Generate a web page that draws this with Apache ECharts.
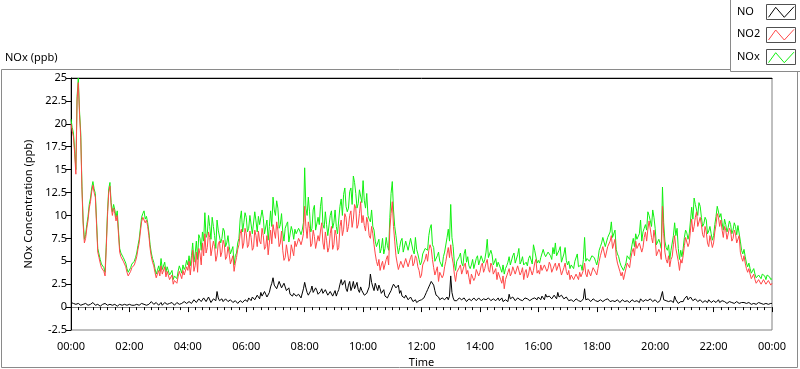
<!DOCTYPE html>
<html>
<head>
<meta charset="utf-8">
<script src="https://cdn.jsdelivr.net/npm/echarts@6/dist/echarts.min.js"></script>
<style>
html,body{margin:0;padding:0;background:#fff;}
#chart{width:800px;height:369px;}
</style>
</head>
<body>
<div id="chart"></div>
<script>
// Sampling: main readings every 5 minutes (00:00..24:00), plus readings half-way between them
var stepMinutes = 5;
var timeLabels = ['00:00','02:00','04:00','06:00','08:00','10:00','12:00','14:00','16:00','18:00','20:00','22:00','00:00'];
var seriesNames = ['NO', 'NO2', 'NOx'];

// NO2 (ppb) at 00:00, 00:05, ... 24:00
var no2 = [
 20.0,18.6,14.5,24.5,18.5,9.0,7.5,9.5,11.5,13.3,12.0,6.0,
 4.8,4.2,3.4,10.0,13.2,10.0,10.2,10.0,6.0,5.5,4.8,3.8,
 3.5,4.3,4.6,5.5,7.0,9.3,10.0,9.5,7.8,5.5,4.5,3.2,
 4.0,4.5,3.8,3.3,3.8,2.8,2.5,3.0,3.3,3.8,4.0,3.7,
 4.0,3.5,6.2,4.5,3.8,5.8,7.0,8.0,6.5,7.6,5.8,6.6,
 5.6,7.2,6.0,6.8,5.5,5.8,4.9,3.9,5.4,6.8,8.5,7.0,
 8.0,6.8,7.6,6.5,7.8,8.3,6.9,7.8,6.6,5.7,8.4,9.0,
 7.5,8.4,7.0,6.2,5.4,6.8,5.3,6.6,7.2,7.0,7.2,7.3,
 11.0,7.5,8.6,6.9,7.7,6.2,7.2,9.2,6.3,7.3,6.5,8.8,
 6.8,7.8,6.5,9.5,8.5,9.8,8.8,10.5,9.6,10.8,9.0,11.5,
 10.0,8.3,9.2,7.5,8.0,5.8,4.5,4.0,5.0,4.3,5.6,8.5,
 11.5,7.2,4.8,4.2,5.2,4.4,5.5,4.6,5.7,4.8,5.3,4.0,
 3.5,4.5,5.8,6.2,6.4,4.3,3.6,2.8,4.0,3.5,5.0,6.5,
 6.8,4.8,2.8,3.6,4.6,3.5,4.8,4.0,2.5,3.8,3.2,4.3,
 3.8,4.8,4.2,5.2,3.8,4.5,3.5,3.0,3.9,2.6,2.0,3.4,
 4.2,3.7,4.5,3.6,4.6,3.8,3.0,4.1,3.6,4.6,4.0,5.2,
 4.0,4.6,3.8,4.8,4.2,4.6,3.6,4.8,3.9,4.6,3.6,4.8,
 3.5,3.0,3.6,2.8,3.4,3.8,3.2,4.8,3.3,4.2,3.6,4.5,
 3.5,5.0,5.8,6.8,5.6,6.4,7.8,6.5,5.5,4.6,3.4,3.0,
 4.2,4.7,5.3,6.4,7.2,6.2,7.0,6.5,8.2,8.5,9.2,7.0,
 7.5,5.4,6.0,11.0,6.0,4.8,4.4,5.5,7.8,6.5,4.0,4.8,
 6.7,7.5,7.0,9.6,8.8,10.4,8.6,9.0,7.6,8.2,6.6,7.2,
 7.0,9.0,9.8,9.5,7.6,8.4,7.2,8.3,7.5,8.0,7.1,6.0,
 5.0,4.8,3.8,3.6,3.3,3.0,2.6,2.9,2.7,2.9,2.6,2.8,
 2.6
];
// NO2 (ppb) at 00:02:30, 00:07:30, ... 23:57:30
var no2Mid = [
 19.2,16.8,22.6,21.0,12.8,7.0,8.6,10.8,12.6,12.5,9.0,5.4,
 4.3,3.9,6.5,12.5,11.0,10.8,9.4,8.0,5.5,5.0,4.4,3.4,
 3.9,4.5,5.0,6.3,8.2,9.8,9.2,8.8,6.4,4.9,3.8,3.6,
 3.4,3.6,4.4,3.9,3.0,3.5,2.9,2.6,3.9,3.1,3.5,4.4,
 5.0,4.8,3.9,6.0,6.4,4.6,5.6,5.9,8.2,5.6,7.2,5.0,
 6.9,5.5,7.3,5.2,6.6,4.7,5.6,4.8,6.3,8.0,6.4,8.6,
 6.5,8.3,6.2,8.4,6.6,7.2,8.6,6.3,7.8,7.0,6.9,8.2,
 9.3,6.6,8.3,5.1,6.8,5.0,6.8,5.6,6.6,7.5,6.8,8.0,
 8.8,9.3,6.6,8.4,6.4,7.8,8.3,7.0,8.2,6.0,8.0,6.3,
 8.4,6.2,8.8,7.8,10.2,8.2,10.0,8.7,11.2,8.6,10.2,9.2,
 8.9,9.8,7.8,8.8,6.8,5.0,5.2,4.6,4.1,5.2,4.6,10.2,
 8.8,5.6,4.1,5.0,4.3,5.3,4.4,5.4,4.5,5.6,4.4,3.2,
 4.6,5.2,5.0,6.8,5.2,3.5,4.4,3.8,3.2,4.4,5.8,5.4,
 5.5,3.6,3.8,4.3,3.6,4.5,3.6,3.2,3.6,2.9,4.1,3.4,
 4.5,3.8,4.8,4.1,4.8,3.6,4.2,3.8,3.0,3.4,3.0,3.8,
 3.4,4.4,3.6,4.5,3.5,4.3,3.8,3.2,4.4,3.5,4.8,3.7,
 3.6,4.0,4.6,3.9,4.9,3.8,4.5,4.0,4.8,3.5,4.3,3.9,
 4.0,3.5,3.0,3.6,3.0,3.3,4.0,3.6,4.1,3.4,4.3,3.8,
 4.2,5.6,6.6,5.4,6.6,7.2,6.4,7.4,4.8,3.9,3.8,3.6,
 4.8,4.3,6.0,5.6,6.4,7.0,6.0,7.6,7.2,9.4,7.6,8.4,
 5.6,6.3,5.2,8.0,5.2,5.6,5.2,6.8,6.4,5.0,5.2,5.6,
 7.6,6.6,8.4,8.2,9.8,8.8,9.8,7.9,8.8,7.0,7.8,6.5,
 8.2,10.2,8.8,8.4,8.8,7.4,8.6,7.2,8.4,7.0,7.8,5.4,
 5.6,4.2,4.2,3.1,3.6,2.6,3.0,2.5,3.0,2.5,2.9,2.4
];

// NOx (ppb) at 00:00, 00:05, ... 24:00
var nox = [
 20.5,19.0,15.0,25.0,19.0,9.4,7.9,9.9,11.9,13.7,12.4,6.4,
 5.2,4.6,3.8,10.4,13.6,10.4,10.6,10.5,6.4,5.9,5.2,4.2,
 3.9,4.7,5.0,5.9,7.4,9.8,10.5,9.9,8.2,5.9,4.9,3.6,
 4.5,5.3,4.3,3.8,4.3,3.3,3.0,3.6,3.9,4.5,4.6,4.4,
 4.6,4.5,7.0,5.8,5.2,7.5,8.2,10.3,8.0,8.8,9.8,7.8,
 9.5,8.2,7.5,8.3,7.0,6.6,5.8,4.6,5.9,7.5,10.5,9.2,
 9.8,8.6,10.2,8.2,9.4,9.9,8.9,9.7,8.0,7.3,10.5,12.0,
 10.0,10.8,9.0,8.2,8.6,9.3,7.2,8.3,8.5,8.1,8.3,8.4,
 15.2,10.0,10.4,8.6,11.1,8.2,9.0,12.0,8.6,9.0,8.0,10.5,
 9.2,8.8,8.0,11.8,12.3,11.0,10.8,13.0,14.3,12.4,11.3,12.8,
 13.8,10.8,10.0,9.3,8.8,7.2,6.8,5.9,7.5,6.4,6.7,9.8,
 13.7,8.8,6.7,6.5,7.5,6.2,7.2,6.3,7.4,5.8,6.3,5.2,
 4.9,5.6,6.5,7.8,9.0,6.5,5.0,6.0,4.8,5.5,5.8,8.5,
 11.2,6.6,4.0,4.8,5.9,4.5,6.3,5.5,4.2,5.2,4.4,5.6,
 4.8,5.7,5.2,7.4,5.4,5.7,4.6,4.4,5.0,3.8,3.6,4.5,
 5.5,4.8,5.9,4.9,6.4,5.0,4.6,4.9,5.3,5.4,6.8,6.0,
 5.1,5.4,6.3,5.5,6.0,5.6,6.5,7.0,5.8,6.6,5.0,6.5,
 4.6,4.2,4.4,5.0,5.8,4.5,4.0,7.6,5.3,5.0,5.6,5.4,
 4.6,6.2,7.0,7.8,6.8,7.5,9.3,7.4,6.3,5.5,4.5,4.0,
 4.8,5.4,6.0,7.5,8.0,7.6,9.5,8.2,9.0,10.4,9.8,10.6,
 8.6,6.8,7.0,13.1,7.2,6.2,5.2,6.4,9.2,8.6,5.2,5.5,
 7.6,8.1,8.0,10.9,11.9,11.0,11.4,9.8,9.1,9.5,8.3,8.0,
 7.8,9.9,11.1,10.2,8.4,9.0,8.7,9.0,8.4,8.8,8.9,7.2,
 5.8,5.5,4.4,4.2,3.9,3.6,3.4,3.5,3.6,3.4,3.5,3.3,
 3.1
];
// NOx (ppb) at the half-way times
var noxMid = [
 19.6,17.2,23.0,21.4,13.2,7.4,9.0,11.2,13.0,12.9,9.4,5.8,
 4.7,4.3,6.9,12.9,11.4,11.2,9.8,8.4,5.9,5.4,4.8,3.8,
 4.3,4.9,5.4,6.7,8.6,10.2,9.6,9.2,6.8,5.3,4.2,4.0,
 3.9,4.1,4.9,4.4,3.5,4.0,3.4,3.1,4.5,3.7,4.1,5.1,
 5.6,5.6,4.9,7.2,7.9,6.2,7.2,7.6,10.0,7.4,8.8,6.4,
 8.4,7.0,8.6,6.6,7.8,5.8,6.6,5.6,7.0,9.6,8.2,10.3,
 8.2,10.0,8.0,10.4,8.2,9.0,10.6,8.0,9.5,8.8,8.8,10.6,
 11.6,8.6,10.2,7.2,9.0,7.1,8.8,7.4,8.0,8.6,7.9,9.2,
 10.8,12.0,8.2,10.6,8.4,9.8,11.0,9.0,10.4,7.8,10.0,8.6,
 10.6,8.0,11.0,10.0,13.0,10.4,12.6,11.2,13.6,10.8,12.8,11.4,
 11.6,12.4,9.6,10.6,8.4,6.6,7.4,6.4,5.8,7.6,6.2,12.4,
 10.6,7.8,5.8,7.2,6.0,7.2,6.2,7.5,6.2,7.6,5.8,4.6,
 5.8,6.4,6.2,8.6,6.8,5.0,5.6,5.0,4.4,6.0,7.6,7.2,
 7.6,4.8,5.0,5.5,4.8,5.8,4.9,4.5,4.6,4.2,5.3,4.6,
 5.6,4.8,6.0,5.4,6.2,4.6,5.3,4.9,4.2,4.6,4.2,4.9,
 4.6,5.6,4.8,5.7,4.7,5.5,4.8,4.5,5.6,4.7,6.2,4.8,
 4.8,5.4,5.8,5.4,6.2,5.2,5.8,5.6,6.2,4.9,5.8,5.1,
 5.0,4.6,4.2,4.8,4.4,4.6,5.2,5.0,5.4,4.8,5.6,5.0,
 5.2,6.6,7.6,6.6,7.6,8.2,7.6,8.4,5.8,4.9,4.7,4.4,
 5.6,5.2,6.8,6.6,7.4,8.0,7.2,8.6,8.4,10.0,8.8,9.8,
 6.8,7.4,6.4,9.2,6.5,6.8,6.2,7.8,7.8,6.4,6.2,6.4,
 8.4,7.4,9.4,9.6,11.2,10.0,11.0,8.8,9.8,8.0,8.8,7.3,
 9.0,11.0,9.8,9.2,9.6,8.2,9.4,8.0,9.2,7.9,8.8,6.2,
 6.3,4.8,4.8,3.7,4.2,3.2,3.5,3.1,3.6,3.0,3.5,3.0
];

// NO (ppb) at 00:00, 00:05, ... 24:00
var no = [
 0.5,0.4,0.3,0.4,0.2,0.3,0.4,0.2,0.3,0.5,0.2,0.3,
 0.1,0.3,0.4,0.2,0.3,0.2,0.3,0.1,0.3,0.2,0.3,0.2,
 0.3,0.2,0.2,0.3,0.2,0.4,0.3,0.2,0.3,0.6,0.3,0.5,
 0.2,0.5,0.3,0.4,0.2,0.3,0.4,0.3,0.4,0.5,0.3,0.6,
 0.4,0.7,0.5,1.0,0.6,1.1,0.7,1.2,0.8,0.9,0.6,1.0,
 1.7,0.7,0.9,0.6,0.8,0.5,0.7,0.4,0.6,0.5,0.7,0.6,
 0.8,1.0,0.7,1.3,0.9,1.2,1.6,1.3,1.4,1.2,2.2,3.2,
 2.6,2.2,2.7,2.0,2.4,1.8,1.4,1.2,1.6,1.0,1.3,1.1,
 2.7,1.6,1.3,2.3,1.5,1.8,1.3,2.0,1.4,1.8,1.2,1.6,
 1.4,1.2,1.9,3.0,2.6,2.0,2.4,1.8,2.8,2.2,1.9,2.2,
 1.6,1.1,1.4,3.6,2.2,2.6,1.8,2.0,1.6,1.2,1.0,1.5,
 2.2,2.6,2.0,1.5,1.2,1.0,1.1,0.8,0.9,0.6,0.5,0.7,
 0.8,1.0,1.6,2.2,2.8,2.4,1.3,1.1,0.9,1.0,0.9,0.8,
 3.4,1.0,0.5,0.8,1.2,0.7,0.9,0.6,1.1,0.8,1.0,0.7,
 0.9,0.6,1.1,0.8,0.9,0.7,1.0,0.8,0.7,1.0,0.5,0.9,
 1.4,0.8,1.0,0.7,1.1,0.9,0.8,1.2,0.9,0.7,0.8,0.9,
 1.1,0.8,1.0,1.4,0.9,1.3,1.0,1.2,1.6,0.9,1.2,1.0,
 0.9,0.6,0.8,0.7,1.1,0.8,0.6,2.0,0.6,0.8,0.7,0.9,
 0.7,0.5,0.8,0.6,0.7,0.9,0.6,0.8,0.5,0.7,0.6,0.8,
 0.5,0.7,0.6,0.8,0.5,0.7,0.9,0.6,0.8,0.7,0.9,0.6,
 0.8,0.5,0.7,1.7,0.6,0.8,0.5,0.7,1.2,0.6,0.5,0.4,
 0.9,1.2,0.8,1.0,0.7,0.8,0.6,0.7,0.5,0.6,0.8,0.5,
 0.7,0.5,0.8,0.6,0.5,0.7,0.4,0.6,0.5,0.4,0.6,0.5,
 0.4,0.6,0.4,0.5,0.3,0.5,0.4,0.3,0.5,0.3,0.4,0.3,
 0.4
];
// NO (ppb) at the half-way times
var noMid = [
 0.3,0.5,0.2,0.3,0.4,0.2,0.3,0.4,0.2,0.3,0.4,0.2,
 0.3,0.2,0.3,0.4,0.2,0.4,0.2,0.3,0.2,0.4,0.2,0.3,
 0.2,0.3,0.4,0.2,0.3,0.2,0.4,0.3,0.2,0.4,0.2,0.3,
 0.4,0.2,0.5,0.3,0.4,0.5,0.2,0.5,0.3,0.4,0.6,0.4,
 0.6,0.4,0.8,0.5,0.9,0.6,1.0,0.6,1.1,0.5,0.9,0.7,
 1.0,0.8,0.6,0.9,0.6,0.8,0.5,0.7,0.4,0.7,0.5,0.8,
 0.6,0.8,1.1,0.8,1.3,0.9,1.2,1.7,1.1,1.6,2.6,2.4,
 2.0,2.8,2.1,2.6,1.8,2.1,1.6,1.5,1.2,1.4,1.0,2.0,
 2.1,1.3,1.8,1.6,2.1,1.4,1.7,1.5,1.9,1.3,1.7,1.2,
 1.8,1.6,2.5,2.4,2.9,1.7,2.8,2.2,2.0,2.7,1.6,1.8,
 1.3,1.5,2.2,2.7,1.8,2.2,2.4,1.5,1.9,1.4,1.3,1.8,
 2.5,2.1,2.4,1.8,1.0,1.3,0.8,1.1,0.6,0.8,0.7,0.5,
 0.7,1.3,1.9,2.5,2.6,1.8,1.1,0.8,1.0,0.8,1.1,1.2,
 1.6,0.7,0.7,1.0,0.8,1.0,0.6,0.9,0.7,1.0,0.7,1.0,
 0.7,0.9,0.8,1.0,0.7,0.9,0.7,1.0,0.8,0.6,0.8,0.6,
 0.9,1.1,0.7,1.0,0.8,0.7,1.0,0.9,0.7,0.9,1.0,0.8,
 0.9,1.2,0.8,1.1,1.2,0.9,1.3,0.9,1.1,1.3,0.9,1.1,
 0.7,0.8,0.6,0.9,0.7,0.6,0.9,0.8,0.9,0.6,0.9,0.7,
 0.6,0.8,0.6,0.8,0.9,0.6,0.7,0.6,0.8,0.5,0.8,0.6,
 0.7,0.5,0.8,0.6,0.7,0.5,0.7,0.8,0.6,0.9,0.7,0.7,
 0.6,0.7,0.9,0.8,0.7,0.6,0.7,0.5,0.8,0.4,0.6,0.6,
 0.7,0.8,1.1,0.7,0.9,0.6,0.8,0.5,0.7,0.5,0.6,0.7,
 0.5,0.7,0.5,0.7,0.6,0.4,0.6,0.5,0.4,0.6,0.4,0.5,
 0.5,0.4,0.5,0.3,0.4,0.3,0.5,0.4,0.3,0.4,0.3,0.4
];

var colors = {NO: '#000000', NO2: '#ff4848', NOx: '#12f012'};

// merge the 5-minute readings with the half-way readings, in time order
function merge(main, mid) {
  var out = [];
  for (var i = 0; i < main.length; i++) {
    out.push([i * stepMinutes, main[i]]);
    if (i < mid.length) out.push([i * stepMinutes + stepMinutes / 2, mid[i]]);
  }
  return out;
}

var FONT = 'Noto Sans';
var chart = echarts.init(document.getElementById('chart'), null, {renderer: 'canvas'});

function legendItem(name, idx) {
  var top = 4 + idx * 22.7;
  return [
    {type: 'text', z: 20, style: {x: 737, y: top + 7.5, text: name, font: '11px ' + FONT, fill: '#000', textVerticalAlign: 'middle', verticalAlign: 'middle'}},
    {type: 'rect', z: 20, shape: {x: 766.5, y: Math.round(top) + 0.5, width: 29, height: 15},
     style: {fill: '#fff', stroke: '#505050', lineWidth: 1}},
    {type: 'polyline', z: 21, shape: {points: [[768.5, top + 13.3], [775.7, top + 3.3], [784.3, top + 13.3], [794, top + 2.7]]},
     style: {stroke: colors[name], lineWidth: 1, fill: null}}
  ];
}

var graphics = [
  {type: 'rect', z: -10, shape: {x: 1.5, y: 69.5, width: 796, height: 298},
   style: {fill: '#fff', stroke: '#8a8a8a', lineWidth: 1}},
  {type: 'text', z: 5, style: {x: 5, y: 58, text: 'NOx (ppb)', font: '11px ' + FONT, fill: '#000', textVerticalAlign: 'middle', verticalAlign: 'middle'}},
  {type: 'rect', z: 19, shape: {x: 730.5, y: -1, width: 72, height: 72.5},
   style: {fill: '#fff', stroke: '#8a8a8a', lineWidth: 1}}
];
seriesNames.forEach(function (n, i) { graphics = graphics.concat(legendItem(n, i)); });

var option = {
  animation: false,
  backgroundColor: '#fff',
  textStyle: {fontFamily: FONT},
  grid: {left: 71, top: 78, right: 28, bottom: 39, outerBoundsMode: 'none', containLabel: false,
         show: true, borderColor: '#808080', borderWidth: 1, backgroundColor: '#fff'},
  graphic: graphics,
  xAxis: [{
    type: 'value', min: 0, max: 1440, interval: 120,
    name: 'Time', nameLocation: 'middle', nameGap: 27,
    nameTextStyle: {fontSize: 11, color: '#000', fontFamily: FONT},
    axisLine: {show: true, lineStyle: {color: '#808080'}},
    axisTick: {show: true, length: 5, lineStyle: {color: '#000'}},
    minorTick: {show: true, splitNumber: 8, length: 3, lineStyle: {color: '#000'}},
    splitLine: {show: false},
    axisLabel: {fontSize: 11, color: '#000', fontFamily: FONT, margin: 11,
      formatter: function (v) { return timeLabels[Math.round(v / 120)]; }}
  }, {
    type: 'value', min: 0, max: 1440, position: 'top',
    axisLine: {show: true, lineStyle: {color: '#000'}},
    axisTick: {show: false}, axisLabel: {show: false}, splitLine: {show: false}
  }],
  yAxis: {
    type: 'value', min: -2.5, max: 25, interval: 2.5,
    name: 'NOx Concentration (ppb)', nameLocation: 'middle', nameGap: 27,
    nameTextStyle: {fontSize: 11, color: '#000', fontFamily: FONT},
    axisLine: {show: true, lineStyle: {color: '#000'}},
    axisTick: {show: true, length: 5, lineStyle: {color: '#000'}},
    splitLine: {show: false},
    axisLabel: {fontSize: 11, color: '#000', fontFamily: FONT, margin: 4}
  },
  series: [
    {name: 'NOx', type: 'line', data: merge(nox, noxMid), showSymbol: false, symbol: 'none',
     lineStyle: {color: colors.NOx, width: 1}, itemStyle: {color: colors.NOx}, z: 2},
    {name: 'NO2', type: 'line', data: merge(no2, no2Mid), showSymbol: false, symbol: 'none',
     lineStyle: {color: colors.NO2, width: 1}, itemStyle: {color: colors.NO2}, z: 3},
    {name: 'NO', type: 'line', data: merge(no, noMid), showSymbol: false, symbol: 'none',
     lineStyle: {color: colors.NO, width: 1}, itemStyle: {color: colors.NO}, z: 4}
  ]
};
chart.setOption(option);
</script>
</body>
</html>
